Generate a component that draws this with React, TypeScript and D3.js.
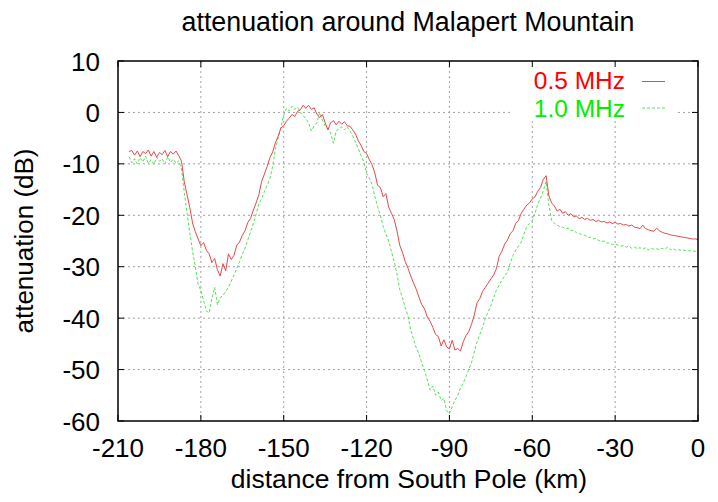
import React from "react";
import * as d3 from "d3";

const title = "attenuation around Malapert Mountain";
const xLabel = "distance from South Pole (km)";
const yLabel = "attenuation (dB)";
const xTicks = [-210, -180, -150, -120, -90, -60, -30, 0];
const yTicks = [-60, -50, -40, -30, -20, -10, 0, 10];
const seriesNames = ["0.5 MHz", "1.0 MHz"];

// samples every 1 km, starting at -206 km and ending at 0 km
const firstKm = -206;

const att05 = [
  -7.6, -7.4, -8.3, -7.5, -8.6, -7.6, -8.0, -7.3, -8.5, -7.6, -8.7, -7.8, -8.2, -7.4, -8.6, -7.6, -8.1, -7.5, -8.4,
  -9.5, -13.5, -16.0, -18.5, -21.5, -23.2, -24.6, -25.9, -25.3, -26.8,
  -27.5, -29.2, -28.4, -30.6, -31.8, -29.4, -30.8, -27.5, -28.6, -27.8,
  -25.8, -25.2, -23.9, -23.0, -21.4, -20.6, -19.0, -17.6, -16.0, -13.4,
  -12.0, -10.5, -8.8, -7.7, -5.9, -4.6, -3.0, -2.6, -1.7, -1.1,
  -0.4, -0.8, 0.2, 0.5, 1.4, 0.8, 1.4, 0.6, 0.9, -0.3,
  -1.0, -0.4, -2.0, -3.4, -2.0, -1.6, -2.4, -1.7, -2.3, -1.8,
  -2.6, -2.7, -3.4, -4.2, -5.5, -6.4, -7.6, -8.0, -9.2, -10.2,
  -11.8, -14.2, -14.6, -16.4, -15.8, -18.4, -19.6, -20.8, -23.0, -25.8,
  -27.2, -29.0, -30.3, -31.8, -33.2, -34.4, -36.0, -37.4, -38.2, -39.8,
  -40.6, -41.8, -43.2, -43.6, -45.4, -44.2, -45.6, -46.0, -44.3, -46.2,
  -45.9, -46.4, -44.6, -43.4, -42.6, -41.2, -39.4, -37.0, -36.2, -34.8,
  -34.0, -33.2, -32.4, -31.6, -30.4, -28.0, -27.0, -25.6, -24.8, -23.6,
  -23.0, -21.6, -21.0, -19.6, -18.8, -18.0, -17.6, -16.8, -16.4, -15.3,
  -14.6, -13.0, -12.3, -16.2, -17.6, -18.2, -19.2, -18.8, -19.6, -19.3,
  -20.0, -19.7, -20.3, -20.1, -20.7, -20.4, -20.8, -20.6, -21.0, -20.8,
  -21.2, -21.0, -21.3, -21.2, -21.5, -21.3, -21.6, -21.4, -21.7, -21.6,
  -21.9, -21.8, -22.1, -21.9, -22.3, -22.4, -22.6, -21.9, -22.6, -22.8,
  -23.0, -23.1, -22.5, -23.0, -23.3, -23.5, -23.6, -23.8, -23.9, -24.0,
  -24.1, -24.2, -24.3, -24.4, -24.5, -24.6, -24.6, -24.7,
];

const att10 = [
  -8.6, -9.8, -9.0, -10.0, -8.8, -9.6, -8.5, -9.9, -9.2, -10.1, -8.7, -9.5, -9.0, -10.0, -8.6, -9.7, -9.1, -9.9, -9.4,
  -11.0, -15.5, -19.6, -23.4, -27.0, -30.0, -33.4, -34.6, -36.6, -38.6,
  -39.0, -36.2, -34.0, -37.4, -36.0, -35.6, -34.8, -34.0, -32.8, -31.6,
  -30.4, -29.0, -27.6, -26.4, -24.8, -23.2, -21.6, -19.8, -17.8, -16.8,
  -15.4, -14.2, -12.8, -10.5, -7.0, -5.0, -2.8, -0.5, 0.8, 0.3,
  1.2, 0.6, 1.0, 0.0, -0.6, -1.2, -2.0, -3.6, -2.6, -2.0,
  0.0, -1.5, -2.6, -3.2, -4.0, -6.0, -3.6, -3.2, -2.8, -3.4,
  -2.8, -3.6, -4.6, -5.8, -7.0, -8.4, -9.6, -11.8, -12.8, -14.0,
  -16.4, -18.3, -20.0, -22.2, -23.6, -25.0, -27.0, -29.0, -31.4, -34.4,
  -36.0, -38.0, -39.6, -42.4, -44.0, -45.8, -47.0, -48.8, -50.2, -52.0,
  -54.0, -53.2, -55.0, -54.4, -56.0, -55.6, -58.0, -58.6, -57.2, -56.0,
  -55.0, -53.6, -52.6, -51.4, -50.0, -48.6, -46.6, -44.6, -43.2, -41.8,
  -40.0, -38.8, -37.6, -36.0, -34.6, -33.6, -32.6, -31.8, -31.0, -29.4,
  -27.8, -26.8, -26.0, -25.2, -23.6, -22.2, -21.6, -21.0, -19.6, -17.8,
  -16.6, -15.2, -13.4, -18.0, -21.0, -21.6, -21.9, -22.2, -22.3, -22.6,
  -22.5, -23.0, -22.9, -23.4, -23.5, -23.8, -23.9, -24.2, -24.3, -24.6,
  -24.5, -24.9, -25.1, -25.0, -25.4, -25.4, -25.7, -25.6, -25.8, -26.0,
  -25.9, -26.2, -26.0, -26.4, -26.2, -26.5, -26.3, -26.6, -26.3, -26.7,
  -26.4, -26.6, -26.5, -26.7, -26.4, -26.6, -26.2, -26.7, -26.5, -26.8,
  -26.7, -26.8, -26.8, -26.9, -26.9, -26.9, -27.0, -27.0,
];

const W = 718;
const H = 502;
const margin = { top: 61, right: 20, bottom: 81, left: 118 };
const font = "'Liberation Sans', Arial, Helvetica, sans-serif";

const App = () => {
  const x = d3.scaleLinear().domain([-210, 0]).range([margin.left, W - margin.right]);
  const y = d3.scaleLinear().domain([-60, 10]).range([H - margin.bottom, margin.top]);
  const [x0, x1] = x.range();
  const [y0, y1] = y.range();

  const line = d3
    .line<number>()
    .x((_, i) => x(firstKm + i))
    .y((d) => y(d));

  const tick = 6;

  return (
    <svg
      width={W}
      height={H}
      style={{ position: "absolute", left: 0, top: 0, background: "#fff" }}
      fontFamily={font}
    >
      <rect width={W} height={H} fill="#fff" />

      {/* grid */}
      <g stroke="#a0a0a0" strokeWidth={1} strokeDasharray="2,3">
        {xTicks.slice(1, -1).map((t) => (
          <line key={"gx" + t} x1={x(t)} x2={x(t)} y1={y1} y2={y0} />
        ))}
        {yTicks.slice(1, -1).map((t) => (
          <line key={"gy" + t} x1={x0} x2={x1} y1={y(t)} y2={y(t)} />
        ))}
      </g>

      {/* key background */}
      <rect x={513} y={y1 + 1} width={164} height={57} fill="#fff" />

      {/* curves */}
      <path d={line(att10) || ""} fill="none" stroke="#55e055" strokeWidth={1} strokeDasharray="3,2" />
      <path d={line(att05) || ""} fill="none" stroke="#e84848" strokeWidth={1} />

      {/* frame */}
      <rect x={x0} y={y1} width={x1 - x0} height={y0 - y1} fill="none" stroke="#000" strokeWidth={1.5} />

      {/* ticks on all four sides, pointing in */}
      <g stroke="#000" strokeWidth={1}>
        {xTicks.map((t) => (
          <g key={"tx" + t}>
            <line x1={x(t)} x2={x(t)} y1={y0} y2={y0 - tick} />
            <line x1={x(t)} x2={x(t)} y1={y1} y2={y1 + tick} />
          </g>
        ))}
        {yTicks.map((t) => (
          <g key={"ty" + t}>
            <line x1={x0} x2={x0 + tick} y1={y(t)} y2={y(t)} />
            <line x1={x1} x2={x1 - tick} y1={y(t)} y2={y(t)} />
          </g>
        ))}
      </g>

      {/* tick labels */}
      <g fontSize={26} fill="#000">
        {xTicks.map((t) => (
          <text key={"lx" + t} x={x(t)} y={457} textAnchor="middle">
            {t}
          </text>
        ))}
        {yTicks.map((t) => (
          <text key={"ly" + t} x={100} y={y(t) + 9.5} textAnchor="end">
            {t}
          </text>
        ))}
      </g>

      {/* titles */}
      <text x={408} y={31} textAnchor="middle" fontSize={26.8} fill="#000">
        {title}
      </text>
      <text x={409} y={488} textAnchor="middle" fontSize={26.5} fill="#000">
        {xLabel}
      </text>
      <text
        transform={`translate(33,${(y0 + y1) / 2}) rotate(-90)`}
        textAnchor="middle"
        fontSize={26}
        fill="#000"
      >
        {yLabel}
      </text>

      {/* key */}
      <text x={625} y={89} textAnchor="end" fontSize={24.5} fill="#ff0000">
        {seriesNames[0]}
      </text>
      <line x1={642} x2={665} y1={81.5} y2={81.5} stroke="#e84848" strokeWidth={1} />
      <text x={625} y={117} textAnchor="end" fontSize={24.5} fill="#00ee00">
        {seriesNames[1]}
      </text>
      <line x1={642} x2={665} y1={108} y2={108} stroke="#55e055" strokeWidth={1} strokeDasharray="3,2" />
    </svg>
  );
};

export default App;
